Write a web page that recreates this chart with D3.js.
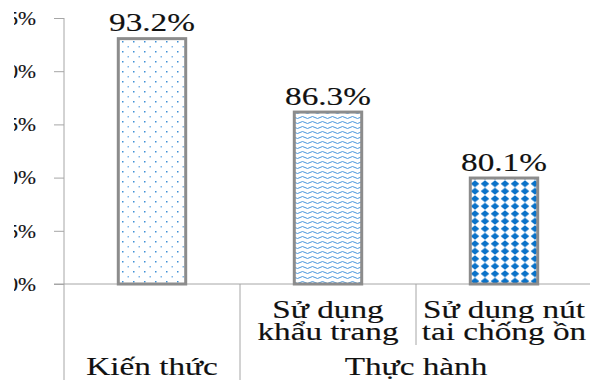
<!DOCTYPE html>
<html><head><meta charset="utf-8">
<script src="https://cdn.jsdelivr.net/npm/d3@7"></script>
<style>body{margin:0;background:#fff}svg{display:block}text{font-family:"Liberation Serif","Times New Roman",serif;fill:#111;stroke:#111;stroke-width:0.15px}</style>
</head><body><svg id="c" width="590" height="380"></svg>
<script>
const categories = ["Kiến thức", "Sử dụng khẩu trang", "Sử dụng nút tai chống ồn"];
const catLines = [["Kiến thức"], ["Sử dụng", "khẩu trang"], ["Sử dụng nút", "tai chống ồn"]];
const values = [93.2, 86.3, 80.1];
const valueLabels = ["93.2%", "86.3%", "80.1%"];
const yTicks = [70, 75, 80, 85, 90, 95];
const groups = [{name: "Thực hành", from: 1, to: 2}];

const svg = d3.select("#c");
const W = 590, H = 380;
const x0 = 64, x1 = 592, yTop = 18, yBase = 284;
const SX = 1.33, FS = 25;

const defs = svg.append("defs");
defs.append("clipPath").attr("id","yclip").append("rect").attr("x",14).attr("y",0).attr("width",60).attr("height",H);
// dots pattern
const p1 = defs.append("pattern").attr("id","dots").attr("patternUnits","userSpaceOnUse").attr("width",11).attr("height",10);
p1.append("rect").attr("width",11).attr("height",10).attr("fill","#fff");
p1.append("rect").attr("x",1).attr("y",1).attr("width",1.5).attr("height",1.5).attr("fill","#3d8fd6");
p1.append("rect").attr("x",6.5).attr("y",6).attr("width",1.5).attr("height",1.5).attr("fill","#7fb6e6");
// wave pattern
const p2 = defs.append("pattern").attr("id","wave").attr("patternUnits","userSpaceOnUse").attr("width",10).attr("height",5);
p2.append("rect").attr("width",10).attr("height",5).attr("fill","#fff");
p2.append("path").attr("d","M0,2.5 Q2.5,0.5 5,2.5 T10,2.5").attr("fill","none").attr("stroke","#4a96dc").attr("stroke-width",1);
// diamond pattern
const p3 = defs.append("pattern").attr("id","diam").attr("patternUnits","userSpaceOnUse").attr("width",10).attr("height",7.5);
p3.append("rect").attr("width",10).attr("height",7.5).attr("fill","#fff");
p3.append("path").attr("d","M5,0.3 L9.3,3.75 L5,7.2 L0.7,3.75Z").attr("fill","#0a72c8");

const pats = ["url(#dots)","url(#wave)","url(#diam)"];

const x = d3.scaleBand().domain(categories).range([x0, x1]).paddingInner(0.6).paddingOuter(0.3);
const y = d3.scaleLinear().domain([70, 95]).range([yBase, yTop]);

const axisColor = "#a6a6a6";
// y axis (clipped at the left like the reference)
const yWrap = svg.append("g").attr("clip-path","url(#yclip)");
const ya = yWrap.append("g").attr("transform",`translate(${x0},0)`)
  .call(d3.axisLeft(y).tickValues(yTicks).tickSize(10).tickFormat(d => d + "%"));
ya.select(".domain").remove();
ya.selectAll(".tick line").attr("stroke", axisColor);
ya.selectAll(".tick text").attr("x", 0).attr("dy", null).attr("dominant-baseline","central")
  .attr("font-size", 18).attr("font-family","Liberation Serif").attr("fill","#111")
  .attr("transform", `translate(-28,0) scale(1.2,1)`);

svg.append("line").attr("x1",x0).attr("x2",x0).attr("y1",yTop).attr("y2",H).attr("stroke",axisColor);
svg.append("line").attr("x1",x0-10).attr("x2",W).attr("y1",yBase).attr("y2",yBase).attr("stroke",axisColor);

// bars
const bw = x.bandwidth();
svg.selectAll("rect.bar").data(values).join("rect").attr("class","bar")
  .attr("x",(d,i)=>x(categories[i])+1.5).attr("width",bw-3)
  .attr("y",d=>y(d)+1.5).attr("height",d=>yBase-y(d)-1.5)
  .attr("fill",(d,i)=>pats[i]).attr("stroke","#8c8c8c").attr("stroke-width",3);

// value labels
svg.selectAll("text.val").data(values).join("text").attr("class","val")
  .attr("transform",(d,i)=>`translate(${x(categories[i])+bw/2},${y(d)-6}) scale(${SX},1)`)
  .attr("text-anchor","middle").attr("font-size",FS).text((d,i)=>valueLabels[i]);

// separators
const step = x.step();
const bandStart = i => x(categories[i]) - x.paddingInner()*step/2;
svg.append("line").attr("x1",bandStart(1)).attr("x2",bandStart(1)).attr("y1",yBase).attr("y2",H).attr("stroke",axisColor);
svg.append("line").attr("x1",bandStart(2)).attr("x2",bandStart(2)).attr("y1",yBase).attr("y2",345).attr("stroke",axisColor);

// category labels
catLines.forEach((lines,i)=>{
  const cx = x(categories[i]) + bw/2;
  if (lines.length === 1) {
    svg.append("text").attr("transform",`translate(${cx},375) scale(${SX},1)`).attr("text-anchor","middle").attr("font-size",FS).text(lines[0]);
  } else {
    lines.forEach((t,j)=>{
      svg.append("text").attr("transform",`translate(${cx},${318+j*22}) scale(${SX},1)`).attr("text-anchor","middle").attr("font-size",FS).text(t);
    });
  }
});
groups.forEach(g=>{
  const cx = (bandStart(g.from) + x1) / 2;
  svg.append("text").attr("transform",`translate(${cx},375) scale(${SX},1)`).attr("text-anchor","middle").attr("font-size",FS).text(g.name);
});
</script></body></html>
